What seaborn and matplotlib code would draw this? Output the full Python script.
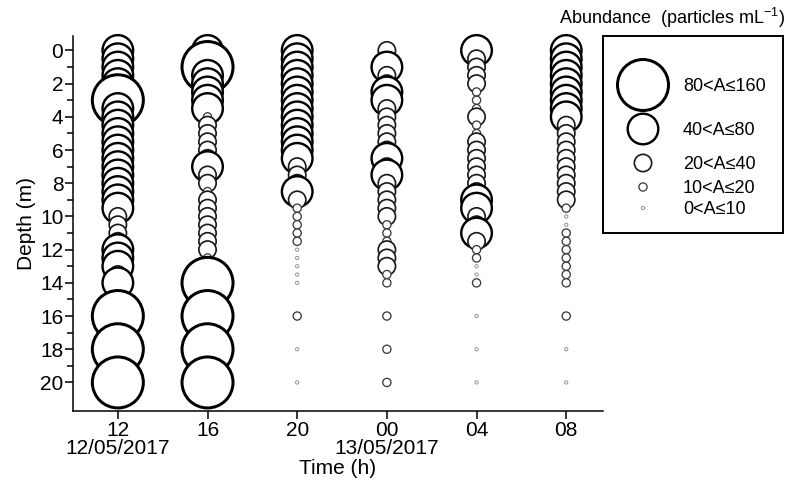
import matplotlib
matplotlib.use("Agg")
import matplotlib.pyplot as plt
import numpy as np
import pandas as pd
import seaborn as sns
from matplotlib.ticker import MultipleLocator, FixedLocator

# ---------------- data ----------------
times = ["12", "16", "20", "00", "04", "08"]
time_labels = ["12\n12/05/2017", "16", "20", "00\n13/05/2017", "04", "08"]
depths = [0, 0.5, 1, 1.5, 2, 2.5, 3, 3.5, 4, 4.5, 5, 5.5, 6, 6.5, 7, 7.5,
          8, 8.5, 9, 9.5, 10, 10.5, 11, 11.5, 12, 12.5, 13, 13.5, 14, 16, 18, 20]
abundance_classes = ["0<A≤10", "10<A≤20", "20<A≤40", "40<A≤80", "80<A≤160"]

# abundance class per depth (1 = 0<A≤10 ... 5 = 80<A≤160)
class_12 = [4, 4, 4, 4, 4, 4, 5, 4, 4, 4, 4, 4, 4, 4, 4, 4,
            4, 4, 4, 4, 3, 3, 3, 3, 4, 4, 4, 3, 4, 5, 5, 5]
class_16 = [4, 4, 5, 4, 4, 4, 4, 4, 2, 3, 3, 3, 3, 3, 4, 3,
            3, 2, 3, 3, 3, 3, 3, 3, 3, 2, 2, 2, 5, 5, 5, 5]
class_20 = [4, 4, 4, 4, 4, 4, 4, 4, 4, 4, 4, 4, 4, 4, 3, 3,
            3, 4, 3, 2, 2, 2, 2, 2, 1, 1, 1, 1, 1, 2, 1, 1]
class_00 = [3, 2, 4, 3, 3, 4, 4, 3, 3, 3, 3, 3, 3, 4, 3, 4,
            3, 3, 3, 3, 3, 2, 2, 2, 3, 3, 3, 2, 2, 2, 2, 2]
class_04 = [4, 3, 3, 3, 3, 2, 2, 2, 3, 2, 2, 3, 3, 3, 3, 3,
            3, 3, 4, 4, 3, 3, 4, 3, 2, 2, 1, 1, 2, 1, 1, 1]
class_08 = [4, 4, 4, 4, 4, 4, 4, 4, 4, 3, 3, 3, 3, 3, 3, 3,
            3, 3, 3, 2, 1, 1, 2, 2, 2, 2, 2, 2, 2, 2, 1, 1]
profiles = [class_12, class_16, class_20, class_00, class_04, class_08]

# ---------------- styling ----------------
DPI = 100
PT = 72 / DPI  # points per pixel
class_style = {
    "80<A≤160": dict(d=54, lw=3.0, ec="#000000"),
    "40<A≤80": dict(d=33, lw=2.4, ec="#000000"),
    "20<A≤40": dict(d=19, lw=1.7, ec="#1a1a1a"),
    "10<A≤20": dict(d=9.5, lw=1.3, ec="#3a3a3a"),
    "0<A≤10": dict(d=4.2, lw=0.9, ec="#8a8a8a"),
}
marker_area = {k: ((v["d"] - v["lw"]) * PT) ** 2 for k, v in class_style.items()}

sns.set_style("ticks")
plt.rcParams["font.family"] = ["Liberation Sans", "DejaVu Sans"]
plt.rcParams["mathtext.fontset"] = "custom"
plt.rcParams["mathtext.rm"] = "Liberation Sans"
plt.rcParams["mathtext.it"] = "Liberation Sans"
plt.rcParams["text.color"] = "black"
plt.rcParams["axes.labelcolor"] = "black"
plt.rcParams["xtick.color"] = "black"
plt.rcParams["ytick.color"] = "black"

records = []
for t, codes in zip(times, profiles):
    for d, c in zip(depths, codes):
        records.append((t, d, abundance_classes[c - 1]))
df = pd.DataFrame(records, columns=["Time", "Depth", "Abundance"])

W, H = 790, 488
fig = plt.figure(figsize=(W / DPI, H / DPI), dpi=DPI)
ax = fig.add_axes([73 / W, 1 - 411 / H, 530 / W, 375 / H])

sns.scatterplot(data=df, x="Time", y="Depth", size="Abundance",
                sizes=marker_area, size_order=abundance_classes[::-1],
                color="white", linewidth=1, legend=False, ax=ax)
pts = ax.collections[-1]
pts.set_facecolor("white")
pts.set_edgecolors([class_style[a]["ec"] for a in df["Abundance"]])
pts.set_linewidths([class_style[a]["lw"] * PT for a in df["Abundance"]])
pts.set_clip_on(False)

ax.set_xlim(-0.5, 5.41)
ax.set_ylim(21.72, -0.87)
ax.set_xticks(range(len(times)))
ax.set_xticklabels(time_labels, linespacing=0.95)
ax.yaxis.set_major_locator(MultipleLocator(2))
ax.yaxis.set_minor_locator(FixedLocator(np.arange(1, 20, 2)))
ax.tick_params(axis="both", which="major", labelsize=15, length=5.5, width=1.1,
               direction="out", pad=1.5)
ax.tick_params(axis="y", which="minor", length=4, width=1.1, direction="out")
for side in ["top", "right"]:
    ax.spines[side].set_visible(False)
for side in ["left", "bottom"]:
    ax.spines[side].set_linewidth(1.1)
    ax.spines[side].set_color("black")
ax.set_xlabel("Time (h)", fontsize=15, labelpad=1)
ax.set_ylabel("Depth (m)", fontsize=15, labelpad=3)

# ---------------- legend ----------------
fig.text(785 / W, 1 - 18 / H, "Abundance  (particles mL$^{-1}$)",
         ha="right", va="center", fontsize=13)
lax = fig.add_axes([603 / W, 1 - 233 / H, 180 / W, 197 / H])
lax.set_xlim(0, 180)
lax.set_ylim(197, 0)
leg_rows = [49, 93, 127, 151, 172]
leg_df = pd.DataFrame({"Abundance": abundance_classes[::-1],
                       "x": [40] * 5, "y": leg_rows})
sns.scatterplot(data=leg_df, x="x", y="y", size="Abundance", sizes=marker_area,
                size_order=abundance_classes[::-1], color="white", linewidth=1,
                legend=False, ax=lax)
lpts = lax.collections[-1]
lpts.set_facecolor("white")
lpts.set_edgecolors([class_style[a]["ec"] for a in leg_df["Abundance"]])
lpts.set_linewidths([class_style[a]["lw"] * PT for a in leg_df["Abundance"]])
for lab, yy in zip(leg_df["Abundance"], leg_rows):
    lax.text(80, yy + 1, lab, ha="left", va="center", fontsize=13)
lax.set_xticks([])
lax.set_yticks([])
lax.set_xlabel("")
lax.set_ylabel("")
for s in lax.spines.values():
    s.set_visible(True)
    s.set_linewidth(1.4)
    s.set_color("black")

fig.savefig("out.png", dpi=DPI)
